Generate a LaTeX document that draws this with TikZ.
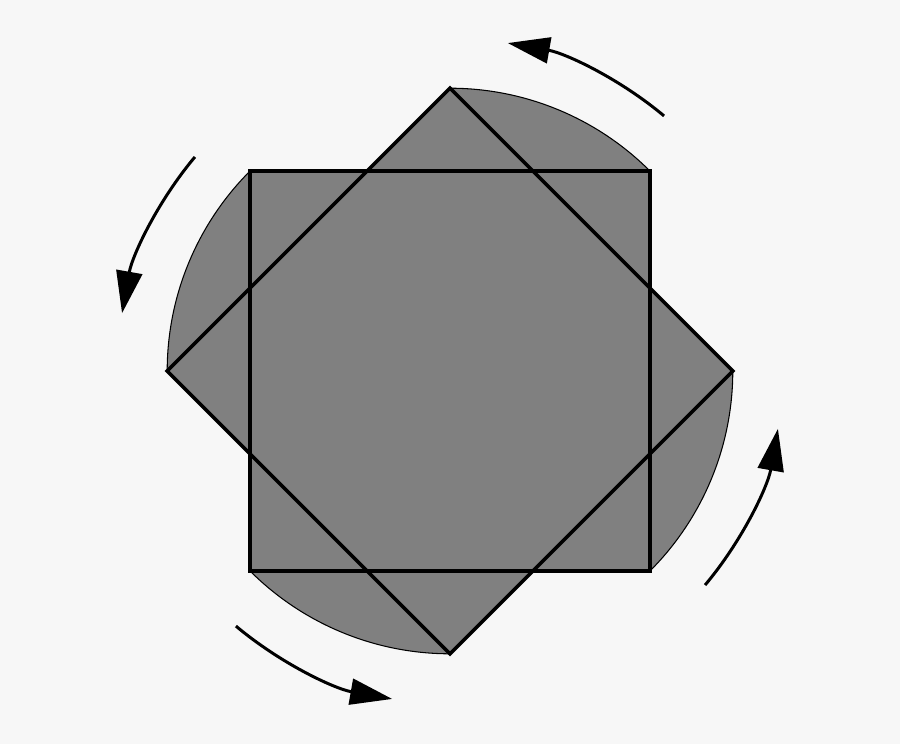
\documentclass[tikz,border=0pt]{standalone}
\usetikzlibrary{arrows.meta}
\definecolor{bg}{HTML}{F7F7F7}

\begin{document}
\begin{tikzpicture}[
		sweep/.style={fill=gray, draw=black, line width=0.3pt},
		outline/.style={draw, line width=1pt, line join=miter},
		turn/.style={line width=0.85pt, -{Triangle[length=4.2mm, width=2.6mm]}},
	]
		\fill[bg] (-4.5,-3.73) rectangle (4.5,3.71);
		\useasboundingbox (-4.5,-3.73) rectangle (4.5,3.71);
		
		\foreach \a in {45,135,225,315}
			\filldraw[sweep] (0,0) -- (\a:2.828) arc[start angle=\a, end angle=\a+45, radius=2.828] -- cycle;
		\fill[gray] (-2,-2) rectangle (2,2);
		\fill[gray] (90:2.828) -- (180:2.828) -- (270:2.828) -- (0:2.828) -- cycle;
		
		\draw[outline] (-2,-2) rectangle (2,2);
		\draw[outline] (90:2.828) -- (180:2.828) -- (270:2.828) -- (0:2.828) -- cycle;
		
		\foreach \a in {50,140,230,320}
			\draw[turn] (\a:3.33) arc[start angle=\a, end angle=\a+30, radius=3.33];
	\end{tikzpicture}
\end{document}
